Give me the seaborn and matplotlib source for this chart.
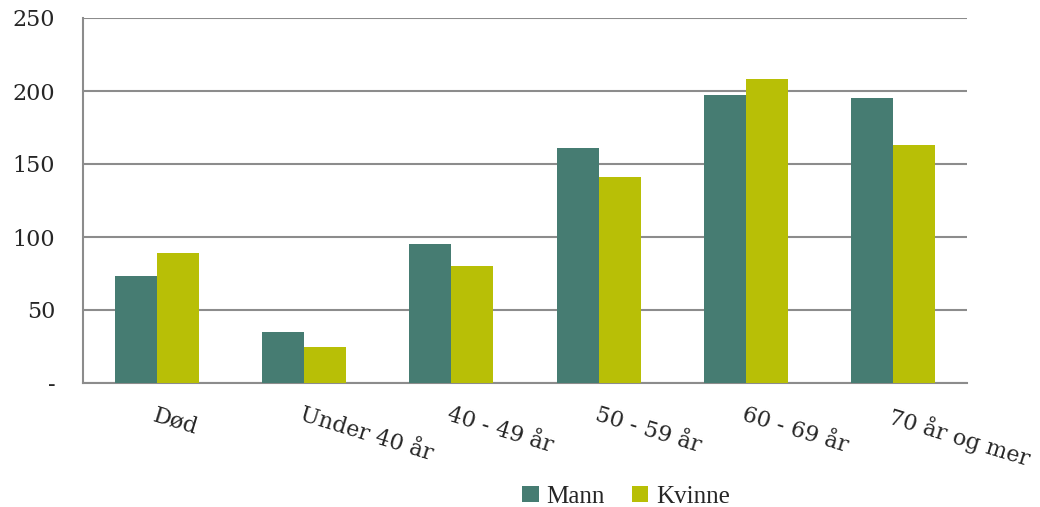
import numpy as np
import pandas as pd
import seaborn as sns
import matplotlib.pyplot as plt
from matplotlib.patches import Patch

# data
categories = ['Død', 'Under 40 år', '40 - 49 år', '50 - 59 år', '60 - 69 år', '70 år og mer']
mann = [73, 35, 95, 161, 197, 195]
kvinne = [89, 25, 80, 141, 208, 163]
series = ['Mann', 'Kvinne']
y_ticks = [0, 50, 100, 150, 200, 250]
y_labels = ['-', '50', '100', '150', '200', '250']

colors = ['#467c72', '#b8bf06']
grid_col = '#8c8c8c'

df = pd.DataFrame({
    'Kategori': categories * 2,
    'Antall': mann + kvinne,
    'Kjønn': ['Mann'] * len(categories) + ['Kvinne'] * len(categories),
})

sns.set_style('white')
plt.rcParams['font.family'] = ['DejaVu Serif']

fig = plt.figure(figsize=(10.4, 5.07), dpi=100)
ax = fig.add_axes([83/1040, 1 - 383/507, (967-83)/1040, (383-18)/507])

sns.barplot(data=df, x='Kategori', y='Antall', hue='Kjønn', order=categories,
            hue_order=series, palette=colors, width=0.57, saturation=1,
            linewidth=0, ax=ax, legend=False, zorder=3)

# grid og akser
ax.set_ylim(0, 250)
ax.set_xlim(-0.5, len(categories) - 0.5)
ax.set_yticks(y_ticks, y_labels, fontsize=16)
ax.yaxis.grid(True, color=grid_col, linewidth=1.5, zorder=0)
ax.set_axisbelow(True)
ax.set_xlabel('')
ax.set_ylabel('')
for s in ['top', 'right']:
    ax.spines[s].set_visible(False)
for s in ['left', 'bottom']:
    ax.spines[s].set_color(grid_col)
    ax.spines[s].set_linewidth(1.5)
ax.tick_params(axis='y', length=5, width=1.5, color=grid_col, pad=15)

# kategori-etiketter og skillemerker
ax.set_xticks(np.arange(len(categories)))
ax.set_xticklabels(categories, fontsize=16, rotation=-17, ha='left', va='top',
                   rotation_mode='anchor')
ax.tick_params(axis='x', length=0, pad=15)
ax.set_xticks(np.arange(len(categories) + 1) - 0.5, minor=True)
ax.tick_params(axis='x', which='minor', length=5, width=1.5, color=grid_col)

handles = [Patch(facecolor=c, edgecolor='none') for c in colors]
fig.legend(handles, series, loc='center', bbox_to_anchor=(0.602, 0.02), ncol=2,
           frameon=False, handlelength=0.65, handleheight=0.65, handletextpad=0.3,
           columnspacing=1.1, prop={'family': 'Liberation Serif', 'size': 18})

fig.savefig('out.png', dpi=100)
